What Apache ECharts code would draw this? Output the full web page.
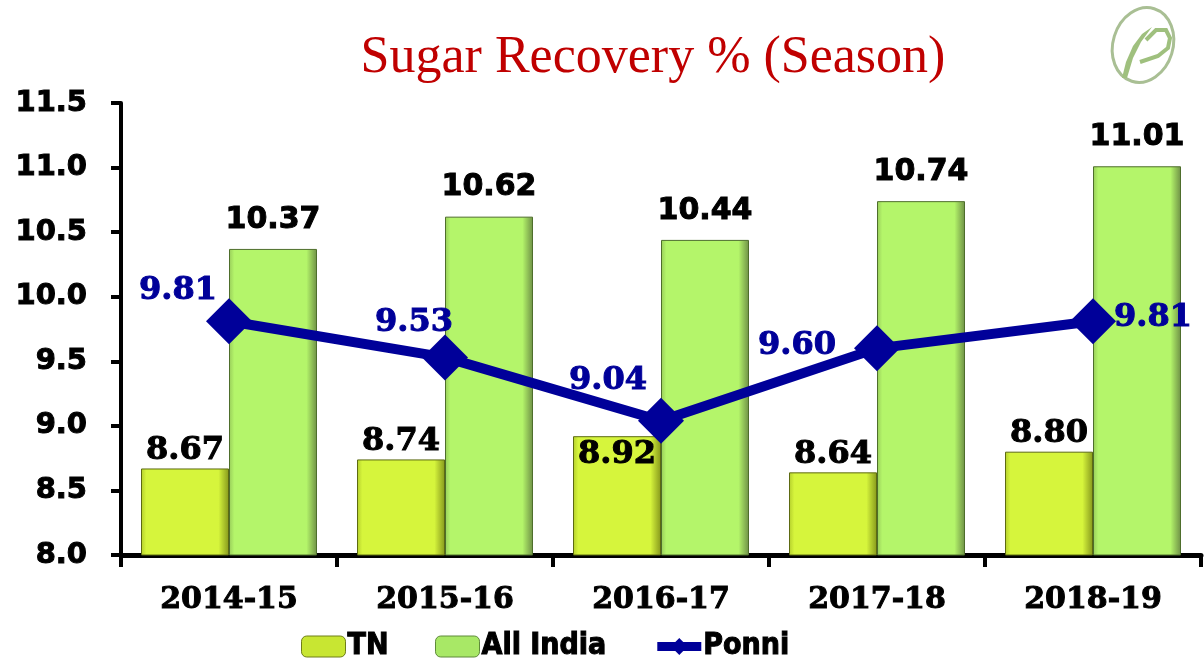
<!DOCTYPE html>
<html>
<head>
<meta charset="utf-8">
<script src="https://cdn.jsdelivr.net/npm/echarts@6/dist/echarts.min.js"></script>
<style>
  html, body { margin: 0; padding: 0; background: #fff; }
  #main { width: 1204px; height: 664px; }
</style>
</head>
<body>
<div id="main"></div>
<script>
const seasons = ["2014-15", "2015-16", "2016-17", "2017-18", "2018-19"];
const tnValues = [8.67, 8.74, 8.92, 8.64, 8.80];
const allIndiaValues = [10.37, 10.62, 10.44, 10.74, 11.01];
const ponniValues = [9.81, 9.53, 9.04, 9.60, 9.81];
const yTicks = { min: 8.0, max: 11.5, step: 0.5 };

// where each Ponni label sits relative to its marker
const ponniOffsets = [[-51, -31], [-31, -35], [-53, -40], [-80, -3], [60, -4]];

function barGrad(leftEdge, mid, rightEdge) {
	return new echarts.graphic.LinearGradient(0, 0, 1, 0, [
		{ offset: 0, color: leftEdge },
		{ offset: 0.06, color: mid },
		{ offset: 0.88, color: mid },
		{ offset: 1, color: rightEdge }
	]);
}

// heavy text: bold plus a thin outline in the same colour
function heavy(color, size, family) {
	return {
		fontFamily: family,
		fontWeight: "bold",
		fontSize: size,
		color: color,
		textBorderColor: color,
		textBorderWidth: 1
	};
}

const chart = echarts.init(document.getElementById("main"), null, { renderer: "canvas" });

const option = {
	animation: false,
	backgroundColor: "#fff",
	title: {
		text: "Sugar Recovery % (Season)",
		left: 648,
		textAlign: "center",
		top: 27,
		textStyle: {
			color: "#C00000",
			fontFamily: "Liberation Serif",
			fontWeight: "normal",
			fontSize: 52
		}
	},
	legend: {
		top: 626,
		left: 296,
		itemWidth: 44,
		itemHeight: 21,
		itemGap: 46,
		textStyle: Object.assign(heavy("#000", 30, "DejaVu Sans Condensed"), { padding: [0, 0, 0, -3] }),
		data: [
			{ name: "TN", itemStyle: { color: "#c8e632", borderColor: "#6e7e18", borderWidth: 1 } },
			{ name: "All India", itemStyle: { color: "#a8e866", borderColor: "#5e8a3a", borderWidth: 1 } },
			{ name: "Ponni", lineStyle: { width: 9 } }
		]
	},
	grid: { left: 121, right: 3, top: 103, bottom: 109 },
	xAxis: {
		type: "category",
		data: seasons,
		axisLine: { lineStyle: { color: "#000", width: 5 } },
		axisTick: { show: true, length: 12, lineStyle: { color: "#000", width: 4 } },
		axisLabel: Object.assign({ margin: 30 }, heavy("#000", 30, "DejaVu Serif"))
	},
	yAxis: {
		type: "value",
		min: yTicks.min,
		max: yTicks.max,
		interval: yTicks.step,
		splitLine: { show: false },
		axisLine: { show: true, lineStyle: { color: "#000", width: 4 } },
		axisTick: { show: true, length: 10, lineStyle: { color: "#000", width: 4 } },
		axisLabel: Object.assign({
			margin: 34,
			formatter: v => v.toFixed(1)
		}, heavy("#000", 29, "DejaVu Sans"))
	},
	series: [
		{
			name: "TN",
			type: "bar",
			barWidth: 88,
			barGap: "0%",
			data: tnValues.map((v, i) => i === 2
				? { value: v, label: { position: "insideTop", distance: 2 } }
				: v),
			itemStyle: {
				color: barGrad("#b4ce2c", "#d6f53c", "#86981c"),
				borderColor: "#5d6a12",
				borderWidth: 1
			},
			label: Object.assign({
				show: true,
				position: "top",
				distance: 2,
				formatter: p => p.value.toFixed(2)
			}, heavy("#000", 32, "DejaVu Serif"))
		},
		{
			name: "All India",
			type: "bar",
			barWidth: 88,
			data: allIndiaValues,
			itemStyle: {
				color: barGrad("#98cc5a", "#b4f56a", "#6e8f46"),
				borderColor: "#4e6e2c",
				borderWidth: 1
			},
			label: Object.assign({
				show: true,
				position: "top",
				distance: 14,
				formatter: p => p.value.toFixed(2)
			}, heavy("#000", 30, "DejaVu Sans"))
		},
		{
			name: "Ponni",
			type: "line",
			z: 5,
			symbol: "diamond",
			symbolSize: 46,
			data: ponniValues.map((v, i) => ({ value: v, label: { offset: ponniOffsets[i] } })),
			lineStyle: { color: "#000099", width: 10 },
			itemStyle: { color: "#000099" },
			label: Object.assign({
				show: true,
				position: "inside",
				formatter: p => p.value.toFixed(2)
			}, heavy("#000099", 32, "DejaVu Serif"))
		}
	],
	graphic: [
		{
			type: "ellipse",
			x: 1143, y: 45,
			rotation: -0.3,
			shape: { cx: 0, cy: 0, rx: 30, ry: 38 },
			style: { fill: "none", stroke: "#a9bf94", lineWidth: 3 }
		},
		{
			type: "polygon",
			shape: {
				points: [[1122, 78], [1126, 62], [1133, 46], [1142, 34], [1152, 27], [1141, 42], [1133, 58], [1127, 78]]
			},
			style: { fill: "#9fc07e" }
		},
		{
			type: "polyline",
			shape: {
				points: [[1146, 40], [1156, 30], [1166, 30], [1170, 38], [1168, 48], [1158, 56], [1140, 62]]
			},
			style: { fill: "none", stroke: "#9fc07e", lineWidth: 4 }
		}
	]
};

chart.setOption(option);
</script>
</body>
</html>
